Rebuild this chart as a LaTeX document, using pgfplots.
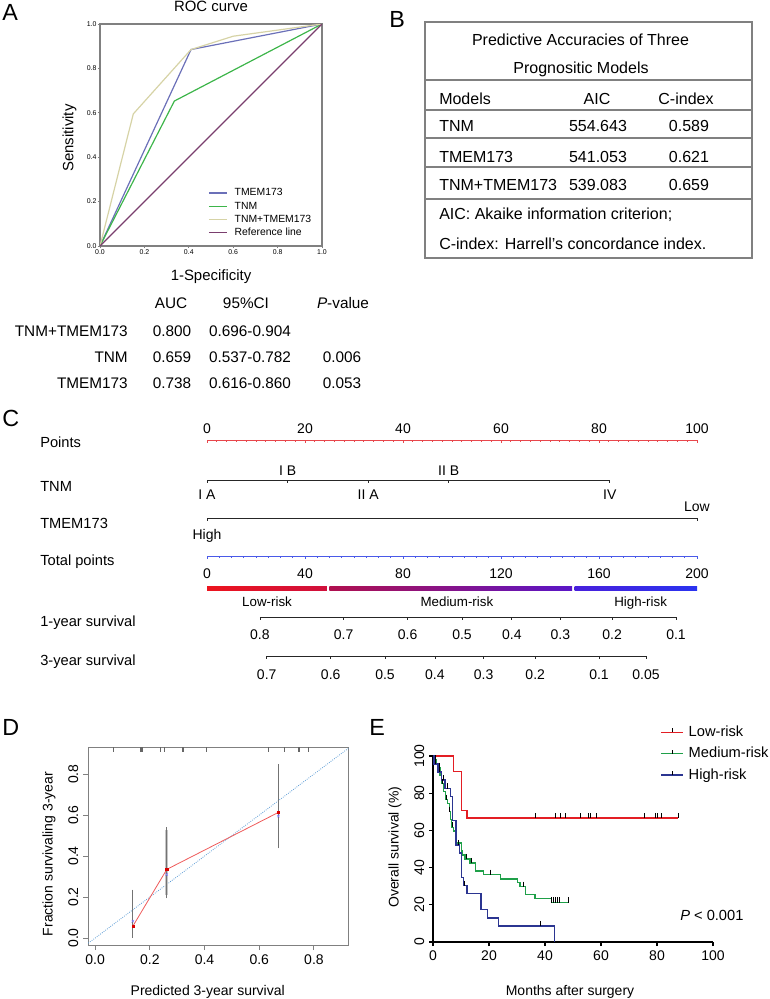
\documentclass[border=0pt]{standalone}
\usepackage{fontspec}
\setmainfont{Liberation Sans}
\usepackage{pgfplots}
\pgfplotsset{compat=1.18}
\newcommand\fs[1]{\fontsize{#1pt}{#1pt}\selectfont}
\definecolor{rocblue}{HTML}{6B70B8}
\definecolor{rocgreen}{HTML}{3DB54A}
\definecolor{rocbeige}{HTML}{D6D3A6}
\definecolor{rocpurple}{HTML}{7A3E6E}
\definecolor{kmred}{HTML}{E31E24}
\definecolor{kmgreen}{HTML}{1FA049}
\definecolor{kmblue}{HTML}{2B3591}
\definecolor{nomored}{HTML}{E8474C}
\definecolor{nomoblue}{HTML}{4A5AE8}
\definecolor{framegray}{HTML}{808080}
\definecolor{diagblue}{HTML}{5B9BD5}
\definecolor{calred}{HTML}{EE5A5A}
\pgfplotsset{
  nomo/.style={scale only axis, height=1pt, ymin=0, ymax=1, hide y axis,
    axis line style={line width=0.75pt}, tick style={line width=0.6pt},
    major tick length=2.2pt, minor tick length=1.5pt, tick align=outside,
    xticklabel style={font=\fs{10.5}, inner sep=0pt, anchor=base},
    /pgf/number format/assume math mode=true}
}
\begin{document}
\begin{tikzpicture}[x=0.75pt,y=-0.75pt]
\path[use as bounding box] (0,0) rectangle (769,999);
\coordinate (pA) at (100,246);
\coordinate (pPts) at (207,440);
\coordinate (pTNM) at (207,480);
\coordinate (pTM) at (207,518);
\coordinate (pTot) at (207,556);
\coordinate (pRisk) at (207,590);
\coordinate (p1y) at (259.9,617);
\coordinate (p3y) at (266.7,656);
\coordinate (pD) at (88,945);
\coordinate (pE) at (433,942);

% ================= Panel A =================
\node[anchor=base west, inner sep=0, font=\fs{17.5}] at (2,21) {A};
\node[anchor=base, inner sep=0, font=\fs{11.2}] at (211,12) {ROC curve};
\node[rotate=90, inner sep=0, font=\fs{11.2}] at (69.5,138) {Sensitivity};
\node[anchor=base, inner sep=0, font=\fs{11.2}] at (211,280) {1-Specificity};
\begin{axis}[at={(pA)}, anchor=south west, scale only axis,
  width=166.5pt, height=166.5pt, xmin=0, xmax=1, ymin=0, ymax=1,
  axis line style={draw=framegray, line width=0.9pt},
  xtick={0,0.2,0.4,0.6,0.8,1}, ytick={0,0.2,0.4,0.6,0.8,1},
  tick align=outside, tick pos=left, major tick length=1.5pt,
  tick style={framegray, line width=0.5pt},
  ticklabel style={font=\fs{5.2}, inner sep=1pt},
  xticklabel style={/pgf/number format/fixed, /pgf/number format/fixed zerofill, /pgf/number format/precision=1},
  yticklabel style={/pgf/number format/fixed, /pgf/number format/fixed zerofill, /pgf/number format/precision=1},
  /pgf/number format/assume math mode=true,
  legend style={at={(0.486,0.262)}, anchor=north west, draw=none, fill=none,
    font=\fs{7.8}, inner sep=0pt, row sep=2.6pt, column sep=5pt,
    nodes={inner sep=0pt, text height=5.8pt, text depth=1.5pt}},
  legend cell align=left,
  legend image code/.code={\draw[#1, line width=0.9pt] (0pt,0pt) -- (14pt,0pt);}]
\addplot[rocblue, line width=0.9pt] coordinates {(0,0) (0.41,0.885) (1,1)};
\addlegendentry{TMEM173}
\addplot[rocgreen, line width=0.9pt] coordinates {(0,0) (0.335,0.653) (1,1)};
\addlegendentry{TNM}
\addplot[rocbeige, line width=0.9pt] coordinates {(0,0) (0.15,0.595) (0.41,0.885) (0.6,0.945) (1,1)};
\addlegendentry{TNM+TMEM173}
\addplot[rocpurple, line width=0.9pt] coordinates {(0,0) (1,1)};
\addlegendentry{Reference line}
\end{axis}

% table under A
\begin{scope}[font=\fs{11.5}]
\node[anchor=base, inner sep=0] at (171,308) {AUC};
\node[anchor=base, inner sep=0] at (246,308) {95\%CI};
\node[anchor=base, inner sep=0] at (343,308) {\textit{P}-value};
\node[anchor=base east, inner sep=0] at (128,336) {TNM+TMEM173};
\node[anchor=base east, inner sep=0] at (128,362) {TNM};
\node[anchor=base east, inner sep=0] at (128,388) {TMEM173};
\node[anchor=base, inner sep=0] at (172,336) {0.800};
\node[anchor=base, inner sep=0] at (172,362) {0.659};
\node[anchor=base, inner sep=0] at (172,388) {0.738};
\node[anchor=base, inner sep=0] at (250,336) {0.696-0.904};
\node[anchor=base, inner sep=0] at (250,362) {0.537-0.782};
\node[anchor=base, inner sep=0] at (250,388) {0.616-0.860};
\node[anchor=base, inner sep=0] at (342,362) {0.006};
\node[anchor=base, inner sep=0] at (342,388) {0.053};
\end{scope}

% ================= Panel B =================
\node[anchor=base west, inner sep=0, font=\fs{17.5}] at (389,28) {B};
\draw[framegray, line width=0.9pt] (425,22) rectangle (752,258);
\foreach \yy in {80,110,138,167,199} \draw[framegray, line width=0.9pt] (425,\yy) -- (752,\yy);
\begin{scope}[font=\fs{12}]
\node[anchor=base, inner sep=0] at (580.5,45.5) {Predictive Accuracies of Three};
\node[anchor=base, inner sep=0] at (581,74) {Prognositic Models};
\node[anchor=base west, inner sep=0] at (439,104) {Models};
\node[anchor=base, inner sep=0] at (597,104) {AIC};
\node[anchor=base, inner sep=0] at (686,104) {C-index};
\node[anchor=base west, inner sep=0] at (439,132) {TNM};
\node[anchor=base, inner sep=0] at (598,132) {554.643};
\node[anchor=base, inner sep=0] at (689,132) {0.589};
\node[anchor=base west, inner sep=0] at (439,162) {TMEM173};
\node[anchor=base, inner sep=0] at (598,162) {541.053};
\node[anchor=base, inner sep=0] at (689,162) {0.621};
\node[anchor=base west, inner sep=0] at (439,190) {TNM+TMEM173};
\node[anchor=base, inner sep=0] at (598,190) {539.083};
\node[anchor=base, inner sep=0] at (689,190) {0.659};
\node[anchor=base west, inner sep=0] at (439,219) {AIC: Akaike information criterion;};
\node[anchor=base west, inner sep=0] at (439,249) {C-index: Harrell’s concordance index.};
\end{scope}

% ================= Panel C =================
\node[anchor=base west, inner sep=0, font=\fs{17.5}] at (2,426) {C};
\begin{scope}[font=\fs{11}]
\node[anchor=base west, inner sep=0] at (40,447) {Points};
\node[anchor=base west, inner sep=0] at (40,491.5) {TNM};
\node[anchor=base west, inner sep=0] at (40,528) {TMEM173};
\node[anchor=base west, inner sep=0] at (40,565.5) {Total points};
\node[anchor=base west, inner sep=0] at (40,626.5) {1-year survival};
\node[anchor=base west, inner sep=0] at (40,665) {3-year survival};
\end{scope}

% Points
\begin{axis}[nomo, at={(pPts)}, anchor=north west, width=367.5pt,
  xmin=0, xmax=100, axis x line*=top, tick align=inside,
  axis line style={nomored}, tick style={nomored},
  xtick={0,20,40,60,80,100}, minor xtick={0,2,...,100},
  xticklabel style={yshift=5.25pt}]
\end{axis}
% TNM
\begin{axis}[nomo, at={(pTNM)}, anchor=south west, width=302.1pt,
  xmin=0, xmax=82.2, axis x line*=bottom,
  axis line style={black!85}, tick style={black!85},
  xtick={0,16.44,32.88,49.32,82.2},
  xticklabels={I A,{\raisebox{18pt}{I B}},II A,{\raisebox{18pt}{II B}},IV},
  xticklabel style={yshift=-12.75pt}]
\end{axis}
% TMEM173
\begin{axis}[nomo, at={(pTM)}, anchor=south west, width=367.5pt,
  xmin=0, xmax=100, axis x line*=bottom,
  axis line style={black!85}, tick style={black!85},
  xtick={0,100}, xticklabels={High,{\raisebox{21pt}{Low}}},
  xticklabel style={yshift=-14.25pt}]
\end{axis}
% Total points
\begin{axis}[nomo, at={(pTot)}, anchor=south west, width=367.5pt,
  xmin=0, xmax=200, axis x line*=bottom,
  axis line style={nomoblue}, tick style={nomoblue},
  xtick={0,40,80,120,160,200}, minor xtick={0,5,...,200},
  xticklabel style={yshift=-15pt}]
\end{axis}
% Risk bars
\begin{axis}[scale only axis, at={(pRisk)}, anchor=south west, width=367.5pt, height=3pt,
  xmin=0, xmax=200, ymin=0, ymax=1, hide y axis, axis x line*=bottom,
  x axis line style={draw=none}, major tick length=0pt,
  xtick={24.5,102,177}, xticklabels={Low-risk,Medium-risk,High-risk},
  xticklabel style={font=\fs{10}, inner sep=0pt, anchor=base, yshift=-12pt}]
\addplot[draw=none, left color={rgb,255:red,236;green,20;blue,30}, right color={rgb,255:red,208;green,16;blue,60}] coordinates {(0,1) (48.9,1)} \closedcycle;
\addplot[draw=none, left color={rgb,255:red,176;green,16;blue,78}, middle color={rgb,255:red,128;green,14;blue,132}, right color={rgb,255:red,90;green,22;blue,200}] coordinates {(49.9,1) (149,1)} \closedcycle;
\addplot[draw=none, left color={rgb,255:red,72;green,32;blue,220}, right color={rgb,255:red,42;green,51;blue,240}] coordinates {(150,1) (200,1)} \closedcycle;
\end{axis}
% 1-year survival
\begin{axis}[nomo, at={(p1y)}, anchor=south west, width=312.1pt,
  xmin=259.9, xmax=676, axis x line*=bottom,
  axis line style={black!85}, tick style={black!85},
  xtick={259.9,343.6,407.6,462,511.8,560.4,612.1,676},
  xticklabels={0.8,0.7,0.6,0.5,0.4,0.3,0.2,0.1},
  xticklabel style={yshift=-15pt}]
\end{axis}
% 3-year survival
\begin{axis}[nomo, at={(p3y)}, anchor=south west, width=284.5pt,
  xmin=266.7, xmax=646, axis x line*=bottom,
  axis line style={black!85}, tick style={black!85},
  xtick={266.7,330.7,385,434.9,483.6,535.2,599,646},
  xticklabels={0.7,0.6,0.5,0.4,0.3,0.2,0.1,0.05},
  xticklabel style={yshift=-15.4pt}]
\end{axis}

% ================= Panel D =================
\node[anchor=base west, inner sep=0, font=\fs{17.5}] at (2,735) {D};
\node[rotate=90, inner sep=0, font=\fs{10.5}] at (49,854) {Fraction survivaling 3-year};
\node[anchor=base, inner sep=0, font=\fs{10.5}] at (207.7,995) {Predicted 3-year survival};
\begin{axis}[at={(pD)}, anchor=south west, scale only axis,
  width=195.75pt, height=148.5pt,
  xmin=-0.026, xmax=0.928, ymin=-0.034, ymax=0.932,
  axis line style={framegray, line width=0.75pt},
  tick pos=left, tick align=outside, major tick length=3.75pt,
  tick style={framegray, line width=0.75pt},
  xtick={0,0.2,0.4,0.6,0.8}, ytick={0,0.2,0.4,0.6,0.8},
  ticklabel style={font=\fs{10.5}},
  xticklabel style={/pgf/number format/fixed, /pgf/number format/fixed zerofill, /pgf/number format/precision=1},
  yticklabel style={rotate=90, anchor=south, /pgf/number format/fixed, /pgf/number format/fixed zerofill, /pgf/number format/precision=1},
  /pgf/number format/assume math mode=true]
\addplot[diagblue, densely dotted, line width=0.6pt] coordinates {(-0.05,-0.05) (1,1)};
\addplot[draw=none, mark=none, forget plot, error bars/.cd, y dir=both, y explicit,
  error bar style={draw=black!22, line width=2.2pt}, error mark=none]
  coordinates {(0.262,0.3675) +- (0,0.1595)};
\addplot[draw=none, mark=none, forget plot, error bars/.cd, y dir=both, y explicit,
  error bar style={draw=black!55, line width=0.6pt}, error mark options={draw=black!55, mark size=2.2pt, line width=0.6pt}]
  coordinates {(0.138,0.1185) +- (0,0.1035) (0.262,0.3675) +- (0,0.1595) (0.670,0.6425) +- (0,0.1905)};
\addplot[calred, line width=0.6pt] coordinates {(0.138,0.058) (0.262,0.335) (0.670,0.613)};
\addplot[only marks, mark=square*, mark size=0.8pt, color=red!85!black] coordinates {(0.138,0.058) (0.262,0.335) (0.670,0.613)};
\addplot[only marks, mark=x, mark size=1.3pt, color=blue!50] coordinates {(0.138,0.082) (0.262,0.31) (0.670,0.595)};
\addplot[only marks, mark=|, mark size=2pt, black!60, mark options={line width=0.5pt}] coordinates {
(0.065,0.919) (0.166,0.919) (0.168,0.919) (0.172,0.919) (0.237,0.919) (0.252,0.919)
(0.317,0.919) (0.319,0.919) (0.324,0.919) (0.408,0.919) (0.632,0.919) (0.693,0.919)
(0.742,0.919) (0.748,0.919) (0.781,0.919)};
\end{axis}

% ================= Panel E =================
\node[anchor=base west, inner sep=0, font=\fs{17.5}] at (369,735) {E};
\node[rotate=90, inner sep=0, font=\fs{10.5}] at (395,847) {Overall survival (\%)};
\node[anchor=base, inner sep=0, font=\fs{10.5}] at (570,995) {Months after surgery};
\node[anchor=base west, inner sep=0, font=\fs{11}] at (680,920) {\textit{P} < 0.001};
\begin{axis}[at={(pE)}, anchor=south west, scale only axis,
  width=210pt, height=139.5pt, xmin=0, xmax=100, ymin=0, ymax=100,
  axis lines=left, axis line style={-, line width=1pt},
  tick align=outside, major tick length=3pt, tick style={black, line width=1pt},
  xtick={0,20,40,60,80,100}, ytick={0,20,40,60,80,100},
  ticklabel style={font=\fs{10.5}},
  yticklabel style={rotate=90, anchor=south},
  /pgf/number format/assume math mode=true, clip=false,
  legend style={at={(0.8107,1.165)}, anchor=north west, draw=none, fill=none,
    font=\fs{11}, inner sep=0pt, row sep=6.1pt, column sep=3.75pt,
    nodes={inner sep=0pt, text height=8pt, text depth=2pt}},
  legend cell align=left,
  legend image code/.code={\draw[#1, line width=1.1pt] (0pt,0pt) -- (16.5pt,0pt);
    \draw[black, line width=0.6pt] (8.25pt,0pt) -- (8.25pt,3pt);}]
\addplot[kmred, line width=1.1pt, const plot] coordinates {
(0,100) (7.4,91.7) (10.1,70.8) (12.2,66.7) (87.6,66.7)};
\addlegendentry{Low-risk}
\addplot[kmgreen, line width=1.1pt, const plot] coordinates {
(0,100) (0.7,97.9) (1.3,95.7) (2,93.6) (2.5,89.4) (3,85.1) (3.8,80.9) (4.5,76.6)
(5.2,74.5) (5.8,70.2) (6.3,66) (6.7,61.7) (7.3,59.6) (8.4,53.2) (10.1,48.9) (10.4,46.8)
(11.4,44.7) (13.2,42.6) (15.2,38.3) (18,36.2) (24.2,34) (30.1,31.9) (31.1,29.8)
(33.1,25.5) (36.4,23.4) (42.4,21.3) (48.3,21.3)};
\addlegendentry{Medium-risk}
\addplot[kmblue, line width=1.1pt, const plot] coordinates {
(0,100) (0.3,95.7) (1.8,91.3) (3,87) (4.3,82.6) (6.2,78.3) (6.9,65.2) (8.2,52.2)
(9.5,47.8) (10.1,34.8) (10.8,30.4) (12.2,26.1) (17.2,17.4) (19.4,13) (23.3,8.7) (43.4,0)};
\addlegendentry{High-risk}
% censor marks
\addplot[forget plot, only marks, mark=|, mark size=1.9pt, mark options={black, line width=0.6pt, yshift=1.8pt}] coordinates {
(36.4,66.7) (43.6,66.7) (45.4,66.7) (47.3,66.7) (52.5,66.7) (55.5,66.7) (56.3,66.7)
(58.5,66.7) (75.5,66.7) (79.5,66.7) (80.2,66.7) (81.4,66.7) (87.6,66.7)};
\addplot[forget plot, only marks, mark=|, mark size=1.9pt, mark options={black, line width=0.6pt, yshift=1.8pt}] coordinates {
(1.0,97.9) (2.2,93.6) (3.4,85.1) (4.8,76.6) (6.0,70.2) (7.0,61.7) (11.8,44.7) (13.8,42.6)
(20.5,36.2) (32.2,29.8) (42.4,21.3) (43.1,21.3) (43.8,21.3) (44.5,21.3) (45.2,21.3) (48.3,21.3)};
\addplot[forget plot, only marks, mark=|, mark size=1.9pt, mark options={black, line width=0.6pt, yshift=1.8pt}] coordinates {
(0.8,95.7) (2.4,91.3) (3.6,87) (5.2,82.6) (9.0,52.2) (11.3,30.4) (38.5,8.7)};
\end{axis}
\end{tikzpicture}
\end{document}
